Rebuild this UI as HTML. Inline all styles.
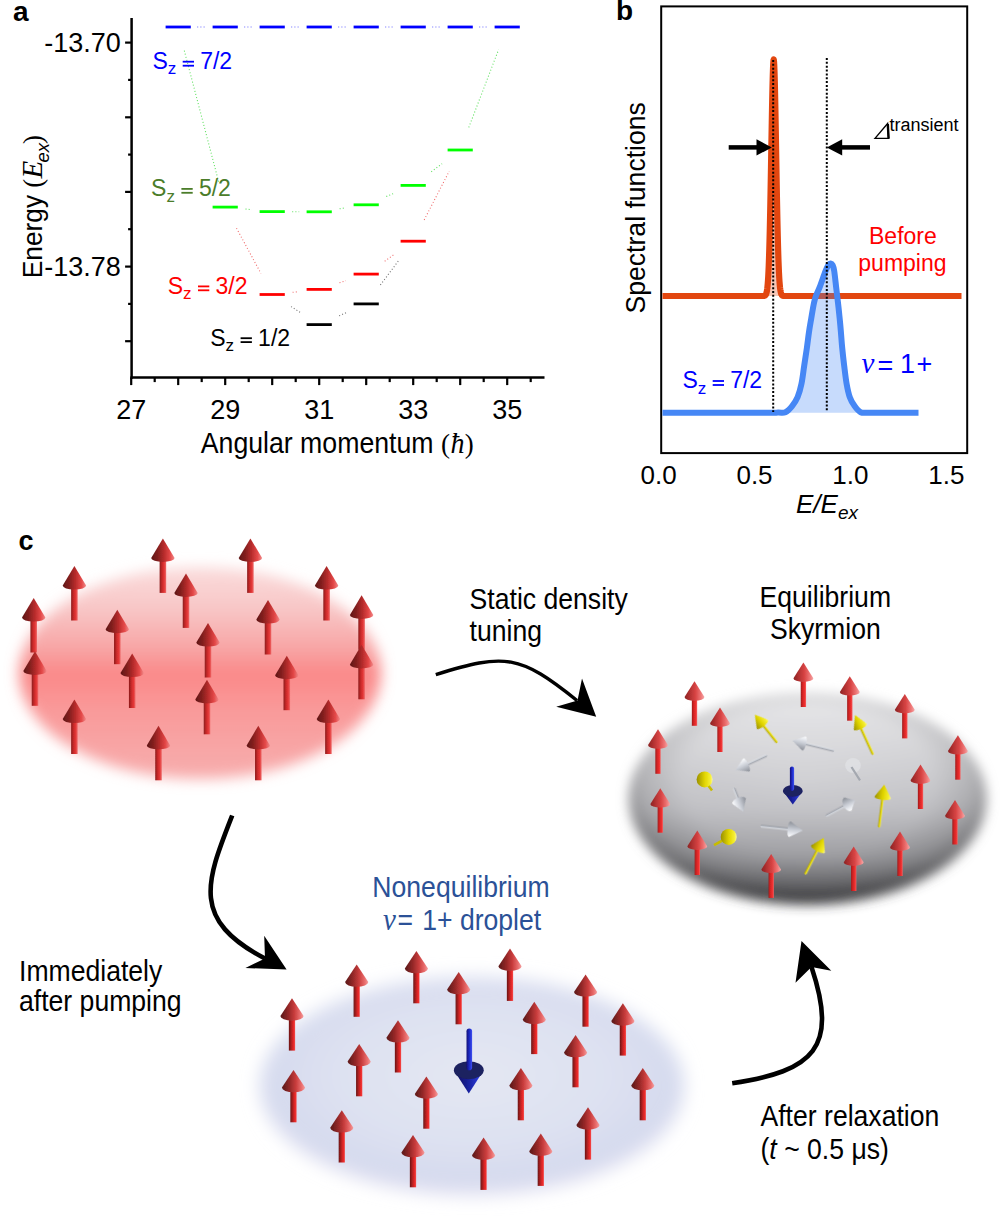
<!DOCTYPE html>
<html><head><meta charset="utf-8"><style>
html,body{margin:0;padding:0;background:#fff;width:1005px;height:1220px;overflow:hidden}
svg{display:block}
</style></head><body>
<svg width="1005" height="1220" viewBox="0 0 1005 1220">
<rect width="1005" height="1220" fill="#fff"/>

<defs>
 <linearGradient id="gConeR" x1="0" y1="0" x2="1" y2="0">
  <stop offset="0" stop-color="#5e1616"/><stop offset="0.3" stop-color="#86201f"/>
  <stop offset="0.55" stop-color="#b82c2c"/><stop offset="0.8" stop-color="#e44848"/><stop offset="1" stop-color="#f08a8a"/>
 </linearGradient>
 <linearGradient id="gShaftR" x1="0" y1="0" x2="1" y2="0">
  <stop offset="0" stop-color="#8a1c1c"/><stop offset="0.35" stop-color="#c42828"/>
  <stop offset="0.7" stop-color="#e43636"/><stop offset="1" stop-color="#ec6a6a"/>
 </linearGradient>
 <linearGradient id="gConeP" x1="0" y1="0" x2="1" y2="0">
  <stop offset="0" stop-color="#5e1a1a"/><stop offset="0.12" stop-color="#6c1e1e"/><stop offset="0.35" stop-color="#962828"/>
  <stop offset="0.6" stop-color="#c83c3c"/><stop offset="0.85" stop-color="#ea6e6e"/><stop offset="1" stop-color="#f2a0a0"/>
 </linearGradient>
 <linearGradient id="gShaftP" x1="0" y1="0" x2="1" y2="0">
  <stop offset="0" stop-color="#6a1616"/><stop offset="0.3" stop-color="#a01e1e"/>
  <stop offset="0.65" stop-color="#dc2626"/><stop offset="0.85" stop-color="#f02e2e"/><stop offset="1" stop-color="#f06060"/>
 </linearGradient>
 <linearGradient id="gConeQ" x1="0" y1="0" x2="1" y2="0">
  <stop offset="0" stop-color="#8c2424"/><stop offset="0.25" stop-color="#b03030"/><stop offset="0.55" stop-color="#d84444"/>
  <stop offset="0.82" stop-color="#ee7676"/><stop offset="1" stop-color="#f4aaaa"/>
 </linearGradient>
 <linearGradient id="gShaftQ" x1="0" y1="0" x2="1" y2="0">
  <stop offset="0" stop-color="#a01c1c"/><stop offset="0.35" stop-color="#d22424"/>
  <stop offset="0.75" stop-color="#f03030"/><stop offset="1" stop-color="#f26464"/>
 </linearGradient>
 <linearGradient id="gConeY" x1="0" y1="0" x2="1" y2="0">
  <stop offset="0" stop-color="#9a9000"/><stop offset="0.5" stop-color="#e0d400"/><stop offset="0.85" stop-color="#f5ee30"/><stop offset="1" stop-color="#faf6a0"/>
 </linearGradient>
 <linearGradient id="gShaftY" x1="0" y1="0" x2="1" y2="0">
  <stop offset="0" stop-color="#a89c00"/><stop offset="0.6" stop-color="#e6da10"/><stop offset="1" stop-color="#f0ea60"/>
 </linearGradient>
 <linearGradient id="gConeW" x1="0" y1="0" x2="1" y2="0">
  <stop offset="0" stop-color="#8a8e96"/><stop offset="0.5" stop-color="#c8ccd4"/><stop offset="0.85" stop-color="#eef0f4"/><stop offset="1" stop-color="#ffffff"/>
 </linearGradient>
 <linearGradient id="gShaftW" x1="0" y1="0" x2="1" y2="0">
  <stop offset="0" stop-color="#8c9098"/><stop offset="0.6" stop-color="#c4c8d0"/><stop offset="1" stop-color="#e8eaee"/>
 </linearGradient>
 <linearGradient id="gConeB" x1="0" y1="0" x2="1" y2="0">
  <stop offset="0" stop-color="#0c0c50"/><stop offset="0.5" stop-color="#1a22a0"/><stop offset="0.85" stop-color="#2a3ad8"/><stop offset="1" stop-color="#5060f0"/>
 </linearGradient>
 <linearGradient id="gShaftB" x1="0" y1="0" x2="1" y2="0">
  <stop offset="0" stop-color="#10107a"/><stop offset="0.6" stop-color="#2030d0"/><stop offset="1" stop-color="#4050f0"/>
 </linearGradient>
 <linearGradient id="gRedDisc" x1="0" y1="0" x2="0" y2="1">
  <stop offset="0" stop-color="#fadcdc"/><stop offset="0.2" stop-color="#f8c6c6"/>
  <stop offset="0.4" stop-color="#f8a2a2"/><stop offset="0.5" stop-color="#fa8888"/>
  <stop offset="0.68" stop-color="#f99a9a"/><stop offset="1" stop-color="#f7aeae"/>
 </linearGradient>
 <linearGradient id="gGrayV" x1="0" y1="0" x2="0" y2="1">
  <stop offset="0" stop-color="#f0f0f2"/><stop offset="0.25" stop-color="#dddde0"/><stop offset="0.55" stop-color="#c6c6ca"/>
  <stop offset="0.78" stop-color="#a2a2a6"/><stop offset="0.92" stop-color="#78787c"/><stop offset="1" stop-color="#5a5a5e"/>
 </linearGradient>
 <radialGradient id="gGrayR" cx="0.5" cy="0.42" r="0.58">
  <stop offset="0" stop-color="#000" stop-opacity="0"/><stop offset="0.6" stop-color="#000" stop-opacity="0.03"/>
  <stop offset="0.8" stop-color="#000" stop-opacity="0.15"/><stop offset="0.93" stop-color="#000" stop-opacity="0.34"/><stop offset="1" stop-color="#000" stop-opacity="0.48"/>
 </radialGradient>
 <radialGradient id="gGrayDisc" cx="0.5" cy="0.35" r="0.62" fx="0.5" fy="0.3">
  <stop offset="0" stop-color="#dcdce0"/><stop offset="0.45" stop-color="#c6c6cb"/>
  <stop offset="0.75" stop-color="#a3a3a8"/><stop offset="0.92" stop-color="#7a7a7e"/><stop offset="1" stop-color="#606064"/>
 </radialGradient>
 <radialGradient id="gBlueDisc" cx="0.5" cy="0.45" r="0.55">
  <stop offset="0" stop-color="#e4e7f3"/><stop offset="0.6" stop-color="#dde1f1"/>
  <stop offset="0.88" stop-color="#d5daee"/><stop offset="1" stop-color="#dedcef"/>
 </radialGradient>
 <filter id="blur8" x="-20%" y="-30%" width="140%" height="160%"><feGaussianBlur stdDeviation="7"/></filter>
 <filter id="blur6" x="-20%" y="-30%" width="140%" height="160%"><feGaussianBlur stdDeviation="6"/></filter>
 <filter id="blur9" x="-20%" y="-30%" width="140%" height="160%"><feGaussianBlur stdDeviation="9"/></filter>
 <filter id="blur5" x="-20%" y="-30%" width="140%" height="160%"><feGaussianBlur stdDeviation="5"/></filter>
 <filter id="soft" x="-30%" y="-30%" width="160%" height="160%"><feGaussianBlur stdDeviation="0.6"/></filter>
</defs>

<text x="13" y="20.5" font-family="Liberation Sans, sans-serif" font-weight="bold" font-size="28">a</text>
<line x1="131.6" y1="18" x2="131.6" y2="378.8" stroke="#000" stroke-width="2.5"/>
<line x1="130.4" y1="377.6" x2="544.5" y2="377.6" stroke="#000" stroke-width="2.5"/>
<line x1="125.1" y1="42.6" x2="131.6" y2="42.6" stroke="#000" stroke-width="2.2"/>
<line x1="128.1" y1="79.9" x2="131.6" y2="79.9" stroke="#000" stroke-width="2.2"/>
<line x1="125.1" y1="117.3" x2="131.6" y2="117.3" stroke="#000" stroke-width="2.2"/>
<line x1="128.1" y1="154.6" x2="131.6" y2="154.6" stroke="#000" stroke-width="2.2"/>
<line x1="125.1" y1="191.9" x2="131.6" y2="191.9" stroke="#000" stroke-width="2.2"/>
<line x1="128.1" y1="229.2" x2="131.6" y2="229.2" stroke="#000" stroke-width="2.2"/>
<line x1="125.1" y1="266.6" x2="131.6" y2="266.6" stroke="#000" stroke-width="2.2"/>
<line x1="128.1" y1="303.9" x2="131.6" y2="303.9" stroke="#000" stroke-width="2.2"/>
<line x1="125.1" y1="341.2" x2="131.6" y2="341.2" stroke="#000" stroke-width="2.2"/>
<line x1="131.2" y1="377.6" x2="131.2" y2="385.1" stroke="#000" stroke-width="2.2"/>
<line x1="154.7" y1="377.6" x2="154.7" y2="382.1" stroke="#000" stroke-width="2.2"/>
<line x1="178.2" y1="377.6" x2="178.2" y2="385.1" stroke="#000" stroke-width="2.2"/>
<line x1="201.7" y1="377.6" x2="201.7" y2="382.1" stroke="#000" stroke-width="2.2"/>
<line x1="225.2" y1="377.6" x2="225.2" y2="385.1" stroke="#000" stroke-width="2.2"/>
<line x1="248.7" y1="377.6" x2="248.7" y2="382.1" stroke="#000" stroke-width="2.2"/>
<line x1="272.2" y1="377.6" x2="272.2" y2="385.1" stroke="#000" stroke-width="2.2"/>
<line x1="295.7" y1="377.6" x2="295.7" y2="382.1" stroke="#000" stroke-width="2.2"/>
<line x1="319.2" y1="377.6" x2="319.2" y2="385.1" stroke="#000" stroke-width="2.2"/>
<line x1="342.7" y1="377.6" x2="342.7" y2="382.1" stroke="#000" stroke-width="2.2"/>
<line x1="366.2" y1="377.6" x2="366.2" y2="385.1" stroke="#000" stroke-width="2.2"/>
<line x1="389.7" y1="377.6" x2="389.7" y2="382.1" stroke="#000" stroke-width="2.2"/>
<line x1="413.2" y1="377.6" x2="413.2" y2="385.1" stroke="#000" stroke-width="2.2"/>
<line x1="436.7" y1="377.6" x2="436.7" y2="382.1" stroke="#000" stroke-width="2.2"/>
<line x1="460.2" y1="377.6" x2="460.2" y2="385.1" stroke="#000" stroke-width="2.2"/>
<line x1="483.7" y1="377.6" x2="483.7" y2="382.1" stroke="#000" stroke-width="2.2"/>
<line x1="507.2" y1="377.6" x2="507.2" y2="385.1" stroke="#000" stroke-width="2.2"/>
<line x1="530.7" y1="377.6" x2="530.7" y2="382.1" stroke="#000" stroke-width="2.2"/>
<text x="131.2" y="418.5" font-family="Liberation Sans, sans-serif" font-size="27" text-anchor="middle">27</text>
<text x="225.2" y="418.5" font-family="Liberation Sans, sans-serif" font-size="27" text-anchor="middle">29</text>
<text x="319.2" y="418.5" font-family="Liberation Sans, sans-serif" font-size="27" text-anchor="middle">31</text>
<text x="413.2" y="418.5" font-family="Liberation Sans, sans-serif" font-size="27" text-anchor="middle">33</text>
<text x="507.2" y="418.5" font-family="Liberation Sans, sans-serif" font-size="27" text-anchor="middle">35</text>
<text x="120.8" y="52.3" font-family="Liberation Sans, sans-serif" font-size="27" text-anchor="end">-13.70</text>
<text x="120.8" y="276" font-family="Liberation Sans, sans-serif" font-size="27" text-anchor="end">-13.78</text>
<text transform="translate(200.75,452.6) scale(1,1.08)" font-family="Liberation Sans, sans-serif" font-size="26.7">Angular momentum</text>
<text transform="translate(441.0,452.8) scale(1,1.04)" font-family="Liberation Serif, serif" font-size="27">(</text>
<text transform="translate(450.6,453.1) scale(1,1.04)" font-family="Liberation Serif, serif" font-style="italic" font-size="28">&#295;</text>
<text transform="translate(464.8,452.8) scale(1,1.04)" font-family="Liberation Serif, serif" font-size="27">)</text>
<g transform="translate(42.2,278.2) rotate(-90) scale(1,1.04)"><text x="0" y="0" font-family="Liberation Sans, sans-serif" font-size="26.3">Energy</text><text x="90.5" y="0" font-family="Liberation Serif, serif" font-size="27">(</text><text x="99.8" y="0" font-family="Liberation Serif, serif" font-style="italic" font-size="29">E</text><text x="115.6" y="6.5" font-family="Liberation Sans, sans-serif" font-style="italic" font-size="18.5">ex</text><text x="134.3" y="0" font-family="Liberation Serif, serif" font-size="27">)</text></g>
<line x1="197.2" y1="27.0" x2="206.2" y2="27.0" stroke="#6a6aff" stroke-width="1.1" stroke-dasharray="1 2.2"/>
<line x1="244.2" y1="27.0" x2="253.2" y2="27.0" stroke="#6a6aff" stroke-width="1.1" stroke-dasharray="1 2.2"/>
<line x1="291.2" y1="27.0" x2="300.2" y2="27.0" stroke="#6a6aff" stroke-width="1.1" stroke-dasharray="1 2.2"/>
<line x1="338.2" y1="27.0" x2="347.2" y2="27.0" stroke="#6a6aff" stroke-width="1.1" stroke-dasharray="1 2.2"/>
<line x1="385.2" y1="27.0" x2="394.2" y2="27.0" stroke="#6a6aff" stroke-width="1.1" stroke-dasharray="1 2.2"/>
<line x1="432.2" y1="27.0" x2="441.2" y2="27.0" stroke="#6a6aff" stroke-width="1.1" stroke-dasharray="1 2.2"/>
<line x1="479.2" y1="27.0" x2="488.2" y2="27.0" stroke="#6a6aff" stroke-width="1.1" stroke-dasharray="1 2.2"/>
<line x1="184.3" y1="50.6" x2="219.1" y2="183.5" stroke="#5ee05e" stroke-width="1.1" stroke-dasharray="1 2.2"/>
<line x1="245.5" y1="209.0" x2="251.9" y2="209.7" stroke="#5ee05e" stroke-width="1.1" stroke-dasharray="1 2.2"/>
<line x1="292.2" y1="211.7" x2="299.2" y2="211.7" stroke="#5ee05e" stroke-width="1.1" stroke-dasharray="1 2.2"/>
<line x1="339.6" y1="208.8" x2="345.8" y2="207.8" stroke="#5ee05e" stroke-width="1.1" stroke-dasharray="1 2.2"/>
<line x1="386.3" y1="196.5" x2="393.1" y2="193.7" stroke="#5ee05e" stroke-width="1.1" stroke-dasharray="1 2.2"/>
<line x1="431.3" y1="171.7" x2="442.1" y2="163.7" stroke="#5ee05e" stroke-width="1.1" stroke-dasharray="1 2.2"/>
<line x1="468.8" y1="127.4" x2="498.6" y2="49.6" stroke="#5ee05e" stroke-width="1.1" stroke-dasharray="1 2.2"/>
<line x1="236.5" y1="228.2" x2="260.9" y2="273.4" stroke="#f06a6a" stroke-width="1.1" stroke-dasharray="1 2.2"/>
<line x1="292.6" y1="292.3" x2="298.8" y2="291.6" stroke="#f06a6a" stroke-width="1.1" stroke-dasharray="1 2.2"/>
<line x1="339.5" y1="282.8" x2="345.9" y2="280.7" stroke="#f06a6a" stroke-width="1.1" stroke-dasharray="1 2.2"/>
<line x1="384.7" y1="261.2" x2="394.7" y2="254.1" stroke="#f06a6a" stroke-width="1.1" stroke-dasharray="1 2.2"/>
<line x1="424.2" y1="219.9" x2="449.2" y2="171.3" stroke="#f06a6a" stroke-width="1.1" stroke-dasharray="1 2.2"/>
<line x1="291.1" y1="306.6" x2="300.3" y2="312.5" stroke="#707070" stroke-width="1.1" stroke-dasharray="1 2.2"/>
<line x1="339.2" y1="315.8" x2="346.2" y2="312.7" stroke="#707070" stroke-width="1.1" stroke-dasharray="1 2.2"/>
<line x1="380.4" y1="285.0" x2="399.0" y2="260.1" stroke="#707070" stroke-width="1.1" stroke-dasharray="1 2.2"/>
<line x1="165.6" y1="27" x2="190.8" y2="27" stroke="#0000ff" stroke-width="2.8"/>
<line x1="212.6" y1="27" x2="237.8" y2="27" stroke="#0000ff" stroke-width="2.8"/>
<line x1="259.6" y1="27" x2="284.8" y2="27" stroke="#0000ff" stroke-width="2.8"/>
<line x1="306.6" y1="27" x2="331.8" y2="27" stroke="#0000ff" stroke-width="2.8"/>
<line x1="353.6" y1="27" x2="378.8" y2="27" stroke="#0000ff" stroke-width="2.8"/>
<line x1="400.6" y1="27" x2="425.8" y2="27" stroke="#0000ff" stroke-width="2.8"/>
<line x1="447.6" y1="27" x2="472.8" y2="27" stroke="#0000ff" stroke-width="2.8"/>
<line x1="494.6" y1="27" x2="519.8" y2="27" stroke="#0000ff" stroke-width="2.8"/>
<line x1="212.6" y1="207.1" x2="237.8" y2="207.1" stroke="#00ff00" stroke-width="2.8"/>
<line x1="259.6" y1="211.6" x2="284.8" y2="211.6" stroke="#00ff00" stroke-width="2.8"/>
<line x1="306.6" y1="211.8" x2="331.8" y2="211.8" stroke="#00ff00" stroke-width="2.8"/>
<line x1="353.6" y1="204.8" x2="378.8" y2="204.8" stroke="#00ff00" stroke-width="2.8"/>
<line x1="400.6" y1="185.4" x2="425.8" y2="185.4" stroke="#00ff00" stroke-width="2.8"/>
<line x1="447.6" y1="150" x2="472.8" y2="150" stroke="#00ff00" stroke-width="2.8"/>
<line x1="259.6" y1="294.5" x2="284.8" y2="294.5" stroke="#ff0000" stroke-width="2.8"/>
<line x1="306.6" y1="289.4" x2="331.8" y2="289.4" stroke="#ff0000" stroke-width="2.8"/>
<line x1="353.6" y1="274.1" x2="378.8" y2="274.1" stroke="#ff0000" stroke-width="2.8"/>
<line x1="400.6" y1="241.2" x2="425.8" y2="241.2" stroke="#ff0000" stroke-width="2.8"/>
<line x1="306.6" y1="324.6" x2="331.8" y2="324.6" stroke="#000000" stroke-width="2.8"/>
<line x1="353.6" y1="303.9" x2="378.8" y2="303.9" stroke="#000000" stroke-width="2.8"/>
<text font-family="Liberation Sans, sans-serif" fill="#0000ff" font-size="23"><tspan x="152.4" y="69">S</tspan><tspan x="167.7" y="74.3" font-size="17">z</tspan><tspan x="200.2" y="69">7/2</tspan></text><rect x="182.7" y="60.8" width="11.3" height="1.8" fill="#0000ff"/><rect x="182.7" y="64.8" width="11.3" height="1.8" fill="#0000ff"/>
<text font-family="Liberation Sans, sans-serif" fill="#4b7d2a" font-size="23"><tspan x="151.1" y="196.2">S</tspan><tspan x="166.4" y="201.5" font-size="17">z</tspan><tspan x="198.9" y="196.2">5/2</tspan></text><rect x="181.4" y="188.0" width="11.3" height="1.8" fill="#4b7d2a"/><rect x="181.4" y="191.9" width="11.3" height="1.8" fill="#4b7d2a"/>
<text font-family="Liberation Sans, sans-serif" fill="#ff0000" font-size="23"><tspan x="167.7" y="293.7">S</tspan><tspan x="183.0" y="299.0" font-size="17">z</tspan><tspan x="215.5" y="293.7">3/2</tspan></text><rect x="198.0" y="285.5" width="11.3" height="1.8" fill="#ff0000"/><rect x="198.0" y="289.4" width="11.3" height="1.8" fill="#ff0000"/>
<text font-family="Liberation Sans, sans-serif" fill="#000000" font-size="23"><tspan x="210.3" y="345.5">S</tspan><tspan x="225.6" y="350.8" font-size="17">z</tspan><tspan x="258.1" y="345.5">1/2</tspan></text><rect x="240.6" y="337.3" width="11.3" height="1.8" fill="#000000"/><rect x="240.6" y="341.2" width="11.3" height="1.8" fill="#000000"/>
<text x="616" y="20" font-family="Liberation Sans, sans-serif" font-weight="bold" font-size="28">b</text>
<rect x="661.2" y="6.4" width="306" height="446.7" fill="none" stroke="#000" stroke-width="2"/>
<path d="M760.00,296.00 L760.25,296.00 L760.50,296.00 L760.75,296.00 L761.00,296.00 L761.25,296.00 L761.50,296.00 L761.75,296.00 L762.00,296.00 L762.25,296.00 L762.50,295.99 L762.75,295.99 L763.00,295.98 L763.25,295.97 L763.50,295.96 L763.75,295.94 L764.00,295.91 L764.25,295.86 L764.50,295.79 L764.75,295.70 L765.00,295.57 L765.25,295.38 L765.50,295.13 L765.75,294.78 L766.00,294.31 L766.25,293.68 L766.50,292.85 L766.75,291.77 L767.00,290.38 L767.25,288.61 L767.50,286.38 L767.75,283.61 L768.00,280.21 L768.25,276.08 L768.50,271.13 L768.75,265.28 L769.00,258.44 L769.25,250.56 L769.50,241.59 L769.75,231.52 L770.00,220.39 L770.25,208.25 L770.50,195.22 L770.75,181.45 L771.00,167.14 L771.25,152.56 L771.50,137.97 L771.75,123.71 L772.00,110.10 L772.25,97.50 L772.50,86.23 L772.75,76.63 L773.00,68.96 L773.25,63.46 L773.50,60.29 L773.75,59.55 L774.00,61.27 L774.25,65.38 L774.50,71.78 L774.75,80.25 L775.00,90.56 L775.25,102.39 L775.50,115.44 L775.75,129.35 L776.00,143.78 L776.25,158.41 L776.50,172.91 L776.75,187.03 L777.00,200.53 L777.25,213.22 L777.50,224.97 L777.75,235.68 L778.00,245.31 L778.25,253.84 L778.50,261.30 L778.75,267.73 L779.00,273.22 L779.25,277.82 L779.50,281.65 L779.75,284.79 L780.00,287.33 L780.25,289.37 L780.50,290.98 L780.75,292.23 L781.00,293.21 L781.25,293.95 L781.50,294.51 L781.75,294.93 L782.00,295.24 L782.25,295.46 L782.50,295.63 L782.75,295.74 L783.00,295.82 L783.25,295.88 L783.50,295.92 L783.75,295.95 L784.00,295.97 L784.25,295.98 L784.50,295.99 L784.75,295.99 L785.00,295.99 L785.25,296.00 L785.50,296.00 L785.75,296.00 L786.00,296.00 L786.25,296.00 L786.50,296.00 L786.75,296.00 L787.00,296.00 L787.25,296.00 L787.50,296.00 L787.75,296.00 L788.00,296.00 Z" fill="#e2460f" fill-opacity="0.3"/>
<path d="M662.50,296.00 L662.75,296.00 L663.00,296.00 L663.25,296.00 L663.50,296.00 L663.75,296.00 L664.00,296.00 L664.25,296.00 L664.50,296.00 L664.75,296.00 L665.00,296.00 L665.25,296.00 L665.50,296.00 L665.75,296.00 L666.00,296.00 L666.25,296.00 L666.50,296.00 L666.75,296.00 L667.00,296.00 L667.25,296.00 L667.50,296.00 L667.75,296.00 L668.00,296.00 L668.25,296.00 L668.50,296.00 L668.75,296.00 L669.00,296.00 L669.25,296.00 L669.50,296.00 L669.75,296.00 L670.00,296.00 L670.25,296.00 L670.50,296.00 L670.75,296.00 L671.00,296.00 L671.25,296.00 L671.50,296.00 L671.75,296.00 L672.00,296.00 L672.25,296.00 L672.50,296.00 L672.75,296.00 L673.00,296.00 L673.25,296.00 L673.50,296.00 L673.75,296.00 L674.00,296.00 L674.25,296.00 L674.50,296.00 L674.75,296.00 L675.00,296.00 L675.25,296.00 L675.50,296.00 L675.75,296.00 L676.00,296.00 L676.25,296.00 L676.50,296.00 L676.75,296.00 L677.00,296.00 L677.25,296.00 L677.50,296.00 L677.75,296.00 L678.00,296.00 L678.25,296.00 L678.50,296.00 L678.75,296.00 L679.00,296.00 L679.25,296.00 L679.50,296.00 L679.75,296.00 L680.00,296.00 L680.25,296.00 L680.50,296.00 L680.75,296.00 L681.00,296.00 L681.25,296.00 L681.50,296.00 L681.75,296.00 L682.00,296.00 L682.25,296.00 L682.50,296.00 L682.75,296.00 L683.00,296.00 L683.25,296.00 L683.50,296.00 L683.75,296.00 L684.00,296.00 L684.25,296.00 L684.50,296.00 L684.75,296.00 L685.00,296.00 L685.25,296.00 L685.50,296.00 L685.75,296.00 L686.00,296.00 L686.25,296.00 L686.50,296.00 L686.75,296.00 L687.00,296.00 L687.25,296.00 L687.50,296.00 L687.75,296.00 L688.00,296.00 L688.25,296.00 L688.50,296.00 L688.75,296.00 L689.00,296.00 L689.25,296.00 L689.50,296.00 L689.75,296.00 L690.00,296.00 L690.25,296.00 L690.50,296.00 L690.75,296.00 L691.00,296.00 L691.25,296.00 L691.50,296.00 L691.75,296.00 L692.00,296.00 L692.25,296.00 L692.50,296.00 L692.75,296.00 L693.00,296.00 L693.25,296.00 L693.50,296.00 L693.75,296.00 L694.00,296.00 L694.25,296.00 L694.50,296.00 L694.75,296.00 L695.00,296.00 L695.25,296.00 L695.50,296.00 L695.75,296.00 L696.00,296.00 L696.25,296.00 L696.50,296.00 L696.75,296.00 L697.00,296.00 L697.25,296.00 L697.50,296.00 L697.75,296.00 L698.00,296.00 L698.25,296.00 L698.50,296.00 L698.75,296.00 L699.00,296.00 L699.25,296.00 L699.50,296.00 L699.75,296.00 L700.00,296.00 L700.25,296.00 L700.50,296.00 L700.75,296.00 L701.00,296.00 L701.25,296.00 L701.50,296.00 L701.75,296.00 L702.00,296.00 L702.25,296.00 L702.50,296.00 L702.75,296.00 L703.00,296.00 L703.25,296.00 L703.50,296.00 L703.75,296.00 L704.00,296.00 L704.25,296.00 L704.50,296.00 L704.75,296.00 L705.00,296.00 L705.25,296.00 L705.50,296.00 L705.75,296.00 L706.00,296.00 L706.25,296.00 L706.50,296.00 L706.75,296.00 L707.00,296.00 L707.25,296.00 L707.50,296.00 L707.75,296.00 L708.00,296.00 L708.25,296.00 L708.50,296.00 L708.75,296.00 L709.00,296.00 L709.25,296.00 L709.50,296.00 L709.75,296.00 L710.00,296.00 L710.25,296.00 L710.50,296.00 L710.75,296.00 L711.00,296.00 L711.25,296.00 L711.50,296.00 L711.75,296.00 L712.00,296.00 L712.25,296.00 L712.50,296.00 L712.75,296.00 L713.00,296.00 L713.25,296.00 L713.50,296.00 L713.75,296.00 L714.00,296.00 L714.25,296.00 L714.50,296.00 L714.75,296.00 L715.00,296.00 L715.25,296.00 L715.50,296.00 L715.75,296.00 L716.00,296.00 L716.25,296.00 L716.50,296.00 L716.75,296.00 L717.00,296.00 L717.25,296.00 L717.50,296.00 L717.75,296.00 L718.00,296.00 L718.25,296.00 L718.50,296.00 L718.75,296.00 L719.00,296.00 L719.25,296.00 L719.50,296.00 L719.75,296.00 L720.00,296.00 L720.25,296.00 L720.50,296.00 L720.75,296.00 L721.00,296.00 L721.25,296.00 L721.50,296.00 L721.75,296.00 L722.00,296.00 L722.25,296.00 L722.50,296.00 L722.75,296.00 L723.00,296.00 L723.25,296.00 L723.50,296.00 L723.75,296.00 L724.00,296.00 L724.25,296.00 L724.50,296.00 L724.75,296.00 L725.00,296.00 L725.25,296.00 L725.50,296.00 L725.75,296.00 L726.00,296.00 L726.25,296.00 L726.50,296.00 L726.75,296.00 L727.00,296.00 L727.25,296.00 L727.50,296.00 L727.75,296.00 L728.00,296.00 L728.25,296.00 L728.50,296.00 L728.75,296.00 L729.00,296.00 L729.25,296.00 L729.50,296.00 L729.75,296.00 L730.00,296.00 L730.25,296.00 L730.50,296.00 L730.75,296.00 L731.00,296.00 L731.25,296.00 L731.50,296.00 L731.75,296.00 L732.00,296.00 L732.25,296.00 L732.50,296.00 L732.75,296.00 L733.00,296.00 L733.25,296.00 L733.50,296.00 L733.75,296.00 L734.00,296.00 L734.25,296.00 L734.50,296.00 L734.75,296.00 L735.00,296.00 L735.25,296.00 L735.50,296.00 L735.75,296.00 L736.00,296.00 L736.25,296.00 L736.50,296.00 L736.75,296.00 L737.00,296.00 L737.25,296.00 L737.50,296.00 L737.75,296.00 L738.00,296.00 L738.25,296.00 L738.50,296.00 L738.75,296.00 L739.00,296.00 L739.25,296.00 L739.50,296.00 L739.75,296.00 L740.00,296.00 L740.25,296.00 L740.50,296.00 L740.75,296.00 L741.00,296.00 L741.25,296.00 L741.50,296.00 L741.75,296.00 L742.00,296.00 L742.25,296.00 L742.50,296.00 L742.75,296.00 L743.00,296.00 L743.25,296.00 L743.50,296.00 L743.75,296.00 L744.00,296.00 L744.25,296.00 L744.50,296.00 L744.75,296.00 L745.00,296.00 L745.25,296.00 L745.50,296.00 L745.75,296.00 L746.00,296.00 L746.25,296.00 L746.50,296.00 L746.75,296.00 L747.00,296.00 L747.25,296.00 L747.50,296.00 L747.75,296.00 L748.00,296.00 L748.25,296.00 L748.50,296.00 L748.75,296.00 L749.00,296.00 L749.25,296.00 L749.50,296.00 L749.75,296.00 L750.00,296.00 L750.25,296.00 L750.50,296.00 L750.75,296.00 L751.00,296.00 L751.25,296.00 L751.50,296.00 L751.75,296.00 L752.00,296.00 L752.25,296.00 L752.50,296.00 L752.75,296.00 L753.00,296.00 L753.25,296.00 L753.50,296.00 L753.75,296.00 L754.00,296.00 L754.25,296.00 L754.50,296.00 L754.75,296.00 L755.00,296.00 L755.25,296.00 L755.50,296.00 L755.75,296.00 L756.00,296.00 L756.25,296.00 L756.50,296.00 L756.75,296.00 L757.00,296.00 L757.25,296.00 L757.50,296.00 L757.75,296.00 L758.00,296.00 L758.25,296.00 L758.50,296.00 L758.75,296.00 L759.00,296.00 L759.25,296.00 L759.50,296.00 L759.75,296.00 L760.00,296.00 L760.25,296.00 L760.50,296.00 L760.75,296.00 L761.00,296.00 L761.25,296.00 L761.50,296.00 L761.75,296.00 L762.00,296.00 L762.25,296.00 L762.50,295.99 L762.75,295.99 L763.00,295.98 L763.25,295.97 L763.50,295.96 L763.75,295.94 L764.00,295.91 L764.25,295.86 L764.50,295.79 L764.75,295.70 L765.00,295.57 L765.25,295.38 L765.50,295.13 L765.75,294.78 L766.00,294.31 L766.25,293.68 L766.50,292.85 L766.75,291.77 L767.00,290.38 L767.25,288.61 L767.50,286.38 L767.75,283.61 L768.00,280.21 L768.25,276.08 L768.50,271.13 L768.75,265.28 L769.00,258.44 L769.25,250.56 L769.50,241.59 L769.75,231.52 L770.00,220.39 L770.25,208.25 L770.50,195.22 L770.75,181.45 L771.00,167.14 L771.25,152.56 L771.50,137.97 L771.75,123.71 L772.00,110.10 L772.25,97.50 L772.50,86.23 L772.75,76.63 L773.00,68.96 L773.25,63.46 L773.50,60.29 L773.75,59.55 L774.00,61.27 L774.25,65.38 L774.50,71.78 L774.75,80.25 L775.00,90.56 L775.25,102.39 L775.50,115.44 L775.75,129.35 L776.00,143.78 L776.25,158.41 L776.50,172.91 L776.75,187.03 L777.00,200.53 L777.25,213.22 L777.50,224.97 L777.75,235.68 L778.00,245.31 L778.25,253.84 L778.50,261.30 L778.75,267.73 L779.00,273.22 L779.25,277.82 L779.50,281.65 L779.75,284.79 L780.00,287.33 L780.25,289.37 L780.50,290.98 L780.75,292.23 L781.00,293.21 L781.25,293.95 L781.50,294.51 L781.75,294.93 L782.00,295.24 L782.25,295.46 L782.50,295.63 L782.75,295.74 L783.00,295.82 L783.25,295.88 L783.50,295.92 L783.75,295.95 L784.00,295.97 L784.25,295.98 L784.50,295.99 L784.75,295.99 L785.00,295.99 L785.25,296.00 L785.50,296.00 L785.75,296.00 L786.00,296.00 L786.25,296.00 L786.50,296.00 L786.75,296.00 L787.00,296.00 L787.25,296.00 L787.50,296.00 L787.75,296.00 L788.00,296.00 L788.25,296.00 L788.50,296.00 L788.75,296.00 L789.00,296.00 L789.25,296.00 L789.50,296.00 L789.75,296.00 L790.00,296.00 L790.25,296.00 L790.50,296.00 L790.75,296.00 L791.00,296.00 L791.25,296.00 L791.50,296.00 L791.75,296.00 L792.00,296.00 L792.25,296.00 L792.50,296.00 L792.75,296.00 L793.00,296.00 L793.25,296.00 L793.50,296.00 L793.75,296.00 L794.00,296.00 L794.25,296.00 L794.50,296.00 L794.75,296.00 L795.00,296.00 L795.25,296.00 L795.50,296.00 L795.75,296.00 L796.00,296.00 L796.25,296.00 L796.50,296.00 L796.75,296.00 L797.00,296.00 L797.25,296.00 L797.50,296.00 L797.75,296.00 L798.00,296.00 L798.25,296.00 L798.50,296.00 L798.75,296.00 L799.00,296.00 L799.25,296.00 L799.50,296.00 L799.75,296.00 L800.00,296.00 L800.25,296.00 L800.50,296.00 L800.75,296.00 L801.00,296.00 L801.25,296.00 L801.50,296.00 L801.75,296.00 L802.00,296.00 L802.25,296.00 L802.50,296.00 L802.75,296.00 L803.00,296.00 L803.25,296.00 L803.50,296.00 L803.75,296.00 L804.00,296.00 L804.25,296.00 L804.50,296.00 L804.75,296.00 L805.00,296.00 L805.25,296.00 L805.50,296.00 L805.75,296.00 L806.00,296.00 L806.25,296.00 L806.50,296.00 L806.75,296.00 L807.00,296.00 L807.25,296.00 L807.50,296.00 L807.75,296.00 L808.00,296.00 L808.25,296.00 L808.50,296.00 L808.75,296.00 L809.00,296.00 L809.25,296.00 L809.50,296.00 L809.75,296.00 L810.00,296.00 L810.25,296.00 L810.50,296.00 L810.75,296.00 L811.00,296.00 L811.25,296.00 L811.50,296.00 L811.75,296.00 L812.00,296.00 L812.25,296.00 L812.50,296.00 L812.75,296.00 L813.00,296.00 L813.25,296.00 L813.50,296.00 L813.75,296.00 L814.00,296.00 L814.25,296.00 L814.50,296.00 L814.75,296.00 L815.00,296.00 L815.25,296.00 L815.50,296.00 L815.75,296.00 L816.00,296.00 L816.25,296.00 L816.50,296.00 L816.75,296.00 L817.00,296.00 L817.25,296.00 L817.50,296.00 L817.75,296.00 L818.00,296.00 L818.25,296.00 L818.50,296.00 L818.75,296.00 L819.00,296.00 L819.25,296.00 L819.50,296.00 L819.75,296.00 L820.00,296.00 L820.25,296.00 L820.50,296.00 L820.75,296.00 L821.00,296.00 L821.25,296.00 L821.50,296.00 L821.75,296.00 L822.00,296.00 L822.25,296.00 L822.50,296.00 L822.75,296.00 L823.00,296.00 L823.25,296.00 L823.50,296.00 L823.75,296.00 L824.00,296.00 L824.25,296.00 L824.50,296.00 L824.75,296.00 L825.00,296.00 L825.25,296.00 L825.50,296.00 L825.75,296.00 L826.00,296.00 L826.25,296.00 L826.50,296.00 L826.75,296.00 L827.00,296.00 L827.25,296.00 L827.50,296.00 L827.75,296.00 L828.00,296.00 L828.25,296.00 L828.50,296.00 L828.75,296.00 L829.00,296.00 L829.25,296.00 L829.50,296.00 L829.75,296.00 L830.00,296.00 L830.25,296.00 L830.50,296.00 L830.75,296.00 L831.00,296.00 L831.25,296.00 L831.50,296.00 L831.75,296.00 L832.00,296.00 L832.25,296.00 L832.50,296.00 L832.75,296.00 L833.00,296.00 L833.25,296.00 L833.50,296.00 L833.75,296.00 L834.00,296.00 L834.25,296.00 L834.50,296.00 L834.75,296.00 L835.00,296.00 L835.25,296.00 L835.50,296.00 L835.75,296.00 L836.00,296.00 L836.25,296.00 L836.50,296.00 L836.75,296.00 L837.00,296.00 L837.25,296.00 L837.50,296.00 L837.75,296.00 L838.00,296.00 L838.25,296.00 L838.50,296.00 L838.75,296.00 L839.00,296.00 L839.25,296.00 L839.50,296.00 L839.75,296.00 L840.00,296.00 L840.25,296.00 L840.50,296.00 L840.75,296.00 L841.00,296.00 L841.25,296.00 L841.50,296.00 L841.75,296.00 L842.00,296.00 L842.25,296.00 L842.50,296.00 L842.75,296.00 L843.00,296.00 L843.25,296.00 L843.50,296.00 L843.75,296.00 L844.00,296.00 L844.25,296.00 L844.50,296.00 L844.75,296.00 L845.00,296.00 L845.25,296.00 L845.50,296.00 L845.75,296.00 L846.00,296.00 L846.25,296.00 L846.50,296.00 L846.75,296.00 L847.00,296.00 L847.25,296.00 L847.50,296.00 L847.75,296.00 L848.00,296.00 L848.25,296.00 L848.50,296.00 L848.75,296.00 L849.00,296.00 L849.25,296.00 L849.50,296.00 L849.75,296.00 L850.00,296.00 L850.25,296.00 L850.50,296.00 L850.75,296.00 L851.00,296.00 L851.25,296.00 L851.50,296.00 L851.75,296.00 L852.00,296.00 L852.25,296.00 L852.50,296.00 L852.75,296.00 L853.00,296.00 L853.25,296.00 L853.50,296.00 L853.75,296.00 L854.00,296.00 L854.25,296.00 L854.50,296.00 L854.75,296.00 L855.00,296.00 L855.25,296.00 L855.50,296.00 L855.75,296.00 L856.00,296.00 L856.25,296.00 L856.50,296.00 L856.75,296.00 L857.00,296.00 L857.25,296.00 L857.50,296.00 L857.75,296.00 L858.00,296.00 L858.25,296.00 L858.50,296.00 L858.75,296.00 L859.00,296.00 L859.25,296.00 L859.50,296.00 L859.75,296.00 L860.00,296.00 L860.25,296.00 L860.50,296.00 L860.75,296.00 L861.00,296.00 L861.25,296.00 L861.50,296.00 L861.75,296.00 L862.00,296.00 L862.25,296.00 L862.50,296.00 L862.75,296.00 L863.00,296.00 L863.25,296.00 L863.50,296.00 L863.75,296.00 L864.00,296.00 L864.25,296.00 L864.50,296.00 L864.75,296.00 L865.00,296.00 L865.25,296.00 L865.50,296.00 L865.75,296.00 L866.00,296.00 L866.25,296.00 L866.50,296.00 L866.75,296.00 L867.00,296.00 L867.25,296.00 L867.50,296.00 L867.75,296.00 L868.00,296.00 L868.25,296.00 L868.50,296.00 L868.75,296.00 L869.00,296.00 L869.25,296.00 L869.50,296.00 L869.75,296.00 L870.00,296.00 L870.25,296.00 L870.50,296.00 L870.75,296.00 L871.00,296.00 L871.25,296.00 L871.50,296.00 L871.75,296.00 L872.00,296.00 L872.25,296.00 L872.50,296.00 L872.75,296.00 L873.00,296.00 L873.25,296.00 L873.50,296.00 L873.75,296.00 L874.00,296.00 L874.25,296.00 L874.50,296.00 L874.75,296.00 L875.00,296.00 L875.25,296.00 L875.50,296.00 L875.75,296.00 L876.00,296.00 L876.25,296.00 L876.50,296.00 L876.75,296.00 L877.00,296.00 L877.25,296.00 L877.50,296.00 L877.75,296.00 L878.00,296.00 L878.25,296.00 L878.50,296.00 L878.75,296.00 L879.00,296.00 L879.25,296.00 L879.50,296.00 L879.75,296.00 L880.00,296.00 L880.25,296.00 L880.50,296.00 L880.75,296.00 L881.00,296.00 L881.25,296.00 L881.50,296.00 L881.75,296.00 L882.00,296.00 L882.25,296.00 L882.50,296.00 L882.75,296.00 L883.00,296.00 L883.25,296.00 L883.50,296.00 L883.75,296.00 L884.00,296.00 L884.25,296.00 L884.50,296.00 L884.75,296.00 L885.00,296.00 L885.25,296.00 L885.50,296.00 L885.75,296.00 L886.00,296.00 L886.25,296.00 L886.50,296.00 L886.75,296.00 L887.00,296.00 L887.25,296.00 L887.50,296.00 L887.75,296.00 L888.00,296.00 L888.25,296.00 L888.50,296.00 L888.75,296.00 L889.00,296.00 L889.25,296.00 L889.50,296.00 L889.75,296.00 L890.00,296.00 L890.25,296.00 L890.50,296.00 L890.75,296.00 L891.00,296.00 L891.25,296.00 L891.50,296.00 L891.75,296.00 L892.00,296.00 L892.25,296.00 L892.50,296.00 L892.75,296.00 L893.00,296.00 L893.25,296.00 L893.50,296.00 L893.75,296.00 L894.00,296.00 L894.25,296.00 L894.50,296.00 L894.75,296.00 L895.00,296.00 L895.25,296.00 L895.50,296.00 L895.75,296.00 L896.00,296.00 L896.25,296.00 L896.50,296.00 L896.75,296.00 L897.00,296.00 L897.25,296.00 L897.50,296.00 L897.75,296.00 L898.00,296.00 L898.25,296.00 L898.50,296.00 L898.75,296.00 L899.00,296.00 L899.25,296.00 L899.50,296.00 L899.75,296.00 L900.00,296.00 L900.25,296.00 L900.50,296.00 L900.75,296.00 L901.00,296.00 L901.25,296.00 L901.50,296.00 L901.75,296.00 L902.00,296.00 L902.25,296.00 L902.50,296.00 L902.75,296.00 L903.00,296.00 L903.25,296.00 L903.50,296.00 L903.75,296.00 L904.00,296.00 L904.25,296.00 L904.50,296.00 L904.75,296.00 L905.00,296.00 L905.25,296.00 L905.50,296.00 L905.75,296.00 L906.00,296.00 L906.25,296.00 L906.50,296.00 L906.75,296.00 L907.00,296.00 L907.25,296.00 L907.50,296.00 L907.75,296.00 L908.00,296.00 L908.25,296.00 L908.50,296.00 L908.75,296.00 L909.00,296.00 L909.25,296.00 L909.50,296.00 L909.75,296.00 L910.00,296.00 L910.25,296.00 L910.50,296.00 L910.75,296.00 L911.00,296.00 L911.25,296.00 L911.50,296.00 L911.75,296.00 L912.00,296.00 L912.25,296.00 L912.50,296.00 L912.75,296.00 L913.00,296.00 L913.25,296.00 L913.50,296.00 L913.75,296.00 L914.00,296.00 L914.25,296.00 L914.50,296.00 L914.75,296.00 L915.00,296.00 L915.25,296.00 L915.50,296.00 L915.75,296.00 L916.00,296.00 L916.25,296.00 L916.50,296.00 L916.75,296.00 L917.00,296.00 L917.25,296.00 L917.50,296.00 L917.75,296.00 L918.00,296.00 L918.25,296.00 L918.50,296.00 L918.75,296.00 L919.00,296.00 L919.25,296.00 L919.50,296.00 L919.75,296.00 L920.00,296.00 L920.25,296.00 L920.50,296.00 L920.75,296.00 L921.00,296.00 L921.25,296.00 L921.50,296.00 L921.75,296.00 L922.00,296.00 L922.25,296.00 L922.50,296.00 L922.75,296.00 L923.00,296.00 L923.25,296.00 L923.50,296.00 L923.75,296.00 L924.00,296.00 L924.25,296.00 L924.50,296.00 L924.75,296.00 L925.00,296.00 L925.25,296.00 L925.50,296.00 L925.75,296.00 L926.00,296.00 L926.25,296.00 L926.50,296.00 L926.75,296.00 L927.00,296.00 L927.25,296.00 L927.50,296.00 L927.75,296.00 L928.00,296.00 L928.25,296.00 L928.50,296.00 L928.75,296.00 L929.00,296.00 L929.25,296.00 L929.50,296.00 L929.75,296.00 L930.00,296.00 L930.25,296.00 L930.50,296.00 L930.75,296.00 L931.00,296.00 L931.25,296.00 L931.50,296.00 L931.75,296.00 L932.00,296.00 L932.25,296.00 L932.50,296.00 L932.75,296.00 L933.00,296.00 L933.25,296.00 L933.50,296.00 L933.75,296.00 L934.00,296.00 L934.25,296.00 L934.50,296.00 L934.75,296.00 L935.00,296.00 L935.25,296.00 L935.50,296.00 L935.75,296.00 L936.00,296.00 L936.25,296.00 L936.50,296.00 L936.75,296.00 L937.00,296.00 L937.25,296.00 L937.50,296.00 L937.75,296.00 L938.00,296.00 L938.25,296.00 L938.50,296.00 L938.75,296.00 L939.00,296.00 L939.25,296.00 L939.50,296.00 L939.75,296.00 L940.00,296.00 L940.25,296.00 L940.50,296.00 L940.75,296.00 L941.00,296.00 L941.25,296.00 L941.50,296.00 L941.75,296.00 L942.00,296.00 L942.25,296.00 L942.50,296.00 L942.75,296.00 L943.00,296.00 L943.25,296.00 L943.50,296.00 L943.75,296.00 L944.00,296.00 L944.25,296.00 L944.50,296.00 L944.75,296.00 L945.00,296.00 L945.25,296.00 L945.50,296.00 L945.75,296.00 L946.00,296.00 L946.25,296.00 L946.50,296.00 L946.75,296.00 L947.00,296.00 L947.25,296.00 L947.50,296.00 L947.75,296.00 L948.00,296.00 L948.25,296.00 L948.50,296.00 L948.75,296.00 L949.00,296.00 L949.25,296.00 L949.50,296.00 L949.75,296.00 L950.00,296.00 L950.25,296.00 L950.50,296.00 L950.75,296.00 L951.00,296.00 L951.25,296.00 L951.50,296.00 L951.75,296.00 L952.00,296.00 L952.25,296.00 L952.50,296.00 L952.75,296.00 L953.00,296.00 L953.25,296.00 L953.50,296.00 L953.75,296.00 L954.00,296.00 L954.25,296.00 L954.50,296.00 L954.75,296.00 L955.00,296.00 L955.25,296.00 L955.50,296.00 L955.75,296.00 L956.00,296.00 L956.25,296.00 L956.50,296.00 L956.75,296.00 L957.00,296.00 L957.25,296.00 L957.50,296.00 L957.75,296.00 L958.00,296.00 L958.25,296.00 L958.50,296.00 L958.75,296.00 L959.00,296.00 L959.25,296.00 L959.50,296.00 L959.75,296.00 L960.00,296.00 L960.25,296.00 L960.50,296.00 L960.75,296.00 L961.00,296.00 L961.25,296.00 L961.50,296.00" fill="none" stroke="#e2460f" stroke-width="6.2" stroke-linejoin="round"/>
<path d="M778.00,412.60 C779.23,412.53 783.05,413.28 785.40,412.20 C787.75,411.12 790.07,408.60 792.10,406.10 C794.13,403.60 796.03,400.93 797.60,397.20 C799.17,393.47 800.40,388.93 801.50,383.70 C802.60,378.47 803.30,371.77 804.20,365.80 C805.10,359.83 806.10,353.53 806.90,347.90 C807.70,342.27 808.28,336.87 809.00,332.00 C809.72,327.13 810.37,323.57 811.20,318.70 C812.03,313.83 813.13,306.78 814.00,302.80 C814.87,298.82 815.43,297.47 816.40,294.80 C817.37,292.13 818.27,290.78 819.80,286.80 C821.33,282.82 824.13,274.60 825.60,270.90 C827.07,267.20 827.77,265.85 828.60,264.60 C829.43,263.35 829.93,263.33 830.60,263.40 C831.27,263.47 832.00,263.75 832.60,265.00 C833.20,266.25 833.62,267.27 834.20,270.90 C834.78,274.53 835.47,281.48 836.10,286.80 C836.73,292.12 837.40,297.48 838.00,302.80 C838.60,308.12 839.22,313.83 839.70,318.70 C840.18,323.57 840.48,327.13 840.90,332.00 C841.32,336.87 841.65,342.27 842.20,347.90 C842.75,353.53 843.47,359.83 844.20,365.80 C844.93,371.77 845.67,378.47 846.60,383.70 C847.53,388.93 848.47,393.47 849.80,397.20 C851.13,400.93 852.80,403.60 854.60,406.10 C856.40,408.60 858.37,411.10 860.60,412.20 C862.83,413.30 866.77,412.62 868.00,412.70 Z" fill="#4687f5" fill-opacity="0.3"/>
<path d="M662.50,412.70 C678.75,412.70 740.75,412.72 760.00,412.70 C779.25,412.68 773.77,412.68 778.00,412.60 C782.23,412.52 783.05,413.28 785.40,412.20 C787.75,411.12 790.07,408.60 792.10,406.10 C794.13,403.60 796.03,400.93 797.60,397.20 C799.17,393.47 800.40,388.93 801.50,383.70 C802.60,378.47 803.30,371.77 804.20,365.80 C805.10,359.83 806.10,353.53 806.90,347.90 C807.70,342.27 808.28,336.87 809.00,332.00 C809.72,327.13 810.37,323.57 811.20,318.70 C812.03,313.83 813.13,306.78 814.00,302.80 C814.87,298.82 815.43,297.47 816.40,294.80 C817.37,292.13 818.27,290.78 819.80,286.80 C821.33,282.82 824.13,274.60 825.60,270.90 C827.07,267.20 827.77,265.85 828.60,264.60 C829.43,263.35 829.93,263.33 830.60,263.40 C831.27,263.47 832.00,263.75 832.60,265.00 C833.20,266.25 833.62,267.27 834.20,270.90 C834.78,274.53 835.47,281.48 836.10,286.80 C836.73,292.12 837.40,297.48 838.00,302.80 C838.60,308.12 839.22,313.83 839.70,318.70 C840.18,323.57 840.48,327.13 840.90,332.00 C841.32,336.87 841.65,342.27 842.20,347.90 C842.75,353.53 843.47,359.83 844.20,365.80 C844.93,371.77 845.67,378.47 846.60,383.70 C847.53,388.93 848.47,393.47 849.80,397.20 C851.13,400.93 852.80,403.60 854.60,406.10 C856.40,408.60 858.37,411.10 860.60,412.20 C862.83,413.30 864.77,412.62 868.00,412.70 C871.23,412.78 871.58,412.70 880.00,412.70 C888.42,412.70 912.08,412.70 918.50,412.70" fill="none" stroke="#4687f5" stroke-width="6" stroke-linejoin="round"/>
<line x1="773.2" y1="60" x2="773.2" y2="412" stroke="#000" stroke-width="2" stroke-dasharray="2 1.85"/>
<line x1="826.8" y1="58" x2="826.8" y2="412" stroke="#000" stroke-width="2" stroke-dasharray="2 1.85"/>
<line x1="728.7" y1="147.4" x2="760" y2="147.4" stroke="#000" stroke-width="4.5"/>
<path d="M771.9,147.4 L756.5,139.2 L756.5,155.6 Z" fill="#000"/>
<line x1="839" y1="147.4" x2="870" y2="147.4" stroke="#000" stroke-width="4.5"/>
<path d="M826.8,147.4 L842.2,139.2 L842.2,155.6 Z" fill="#000"/>
<path d="M875,138.4 L887.6,123.6 L888.6,138.4 Z" fill="none" stroke="#000" stroke-width="1.4" stroke-linejoin="miter"/>
<line x1="887.8" y1="124" x2="888.6" y2="138.6" stroke="#000" stroke-width="2.4"/>
<text x="889.5" y="131.2" font-family="Liberation Sans, sans-serif" font-size="18">transient</text>
<text x="869" y="243.5" font-family="Liberation Sans, sans-serif" font-size="23" fill="#ff0000">Before</text>
<text x="858.3" y="271.2" font-family="Liberation Sans, sans-serif" font-size="23" fill="#ff0000">pumping</text>
<text font-family="Liberation Sans, sans-serif" fill="#0000ff" font-size="23"><tspan x="682.4" y="388.3">S</tspan><tspan x="697.7" y="393.6" font-size="17">z</tspan><tspan x="730.2" y="388.3">7/2</tspan></text><rect x="712.7" y="380.1" width="11.3" height="1.8" fill="#0000ff"/><rect x="712.7" y="384.1" width="11.3" height="1.8" fill="#0000ff"/>
<text x="861.5" y="373.2" font-family="Liberation Serif, serif" font-style="italic" font-size="29" fill="#0000ff">&#957;</text>
<text x="877.5" y="374.7" font-family="Liberation Sans, sans-serif" font-size="27" fill="#0000ff">=</text>
<text x="899.9" y="373.2" font-family="Liberation Sans, sans-serif" font-size="27" fill="#0000ff">1</text>
<text x="916.6" y="373.2" font-family="Liberation Sans, sans-serif" font-size="27" fill="#0000ff">+</text>
<text x="658.6" y="484" font-family="Liberation Sans, sans-serif" font-size="26" text-anchor="middle">0.0</text>
<text x="754.5" y="484" font-family="Liberation Sans, sans-serif" font-size="26" text-anchor="middle">0.5</text>
<text x="850.4" y="484" font-family="Liberation Sans, sans-serif" font-size="26" text-anchor="middle">1.0</text>
<text x="946.3" y="484" font-family="Liberation Sans, sans-serif" font-size="26" text-anchor="middle">1.5</text>
<text x="796" y="513.3" font-family="Liberation Sans, sans-serif" font-style="italic" font-size="26">E/E<tspan font-size="19" dy="6">ex</tspan></text>
<text transform="translate(644.5,313.5) rotate(-90) scale(1,1.066)" font-family="Liberation Sans, sans-serif" font-size="26.6">Spectral functions</text>
<text x="18.5" y="549.5" font-family="Liberation Sans, sans-serif" font-weight="bold" font-size="27">c</text>
<ellipse cx="200" cy="673" rx="181" ry="106" fill="url(#gRedDisc)" filter="url(#blur8)"/>
<g filter="url(#blur6)"><ellipse cx="807.5" cy="798.5" rx="179" ry="106" fill="url(#gGrayV)"/><ellipse cx="807.5" cy="798.5" rx="179" ry="106" fill="url(#gGrayR)"/></g>
<ellipse cx="472" cy="1086" rx="212" ry="109" fill="url(#gBlueDisc)" filter="url(#blur9)"/>
<g transform="translate(162.9,538.4) rotate(0) scale(0.991,0.991)" filter="url(#soft)"><rect x="-3.3" y="17.8" width="6.6" height="37.2" fill="url(#gShaftR)"/><path d="M0,0 L11.8,19.8 A11.8,4.0 0 0 1 -11.8,19.8 Z" fill="url(#gConeR)"/></g>
<g transform="translate(250.4,538.4) rotate(0) scale(0.991,0.991)" filter="url(#soft)"><rect x="-3.3" y="17.8" width="6.6" height="37.2" fill="url(#gShaftR)"/><path d="M0,0 L11.8,19.8 A11.8,4.0 0 0 1 -11.8,19.8 Z" fill="url(#gConeR)"/></g>
<g transform="translate(74.4,566.0) rotate(0) scale(0.991,0.991)" filter="url(#soft)"><rect x="-3.3" y="17.8" width="6.6" height="37.2" fill="url(#gShaftR)"/><path d="M0,0 L11.8,19.8 A11.8,4.0 0 0 1 -11.8,19.8 Z" fill="url(#gConeR)"/></g>
<g transform="translate(326.6,566.0) rotate(0) scale(0.991,0.991)" filter="url(#soft)"><rect x="-3.3" y="17.8" width="6.6" height="37.2" fill="url(#gShaftR)"/><path d="M0,0 L11.8,19.8 A11.8,4.0 0 0 1 -11.8,19.8 Z" fill="url(#gConeR)"/></g>
<g transform="translate(186.0,573.4) rotate(0) scale(0.991,0.991)" filter="url(#soft)"><rect x="-3.3" y="17.8" width="6.6" height="37.2" fill="url(#gShaftR)"/><path d="M0,0 L11.8,19.8 A11.8,4.0 0 0 1 -11.8,19.8 Z" fill="url(#gConeR)"/></g>
<g transform="translate(361.6,595.3) rotate(0) scale(0.991,0.991)" filter="url(#soft)"><rect x="-3.3" y="17.8" width="6.6" height="37.2" fill="url(#gShaftR)"/><path d="M0,0 L11.8,19.8 A11.8,4.0 0 0 1 -11.8,19.8 Z" fill="url(#gConeR)"/></g>
<g transform="translate(33.7,598.0) rotate(0) scale(0.991,0.991)" filter="url(#soft)"><rect x="-3.3" y="17.8" width="6.6" height="37.2" fill="url(#gShaftR)"/><path d="M0,0 L11.8,19.8 A11.8,4.0 0 0 1 -11.8,19.8 Z" fill="url(#gConeR)"/></g>
<g transform="translate(268.0,600.0) rotate(0) scale(0.991,0.991)" filter="url(#soft)"><rect x="-3.3" y="17.8" width="6.6" height="37.2" fill="url(#gShaftR)"/><path d="M0,0 L11.8,19.8 A11.8,4.0 0 0 1 -11.8,19.8 Z" fill="url(#gConeR)"/></g>
<g transform="translate(117.3,609.7) rotate(0) scale(0.991,0.991)" filter="url(#soft)"><rect x="-3.3" y="17.8" width="6.6" height="37.2" fill="url(#gShaftR)"/><path d="M0,0 L11.8,19.8 A11.8,4.0 0 0 1 -11.8,19.8 Z" fill="url(#gConeR)"/></g>
<g transform="translate(208.0,623.0) rotate(0) scale(0.991,0.991)" filter="url(#soft)"><rect x="-3.3" y="17.8" width="6.6" height="37.2" fill="url(#gShaftR)"/><path d="M0,0 L11.8,19.8 A11.8,4.0 0 0 1 -11.8,19.8 Z" fill="url(#gConeR)"/></g>
<g transform="translate(361.6,644.8) rotate(0) scale(0.991,0.991)" filter="url(#soft)"><rect x="-3.3" y="17.8" width="6.6" height="37.2" fill="url(#gShaftR)"/><path d="M0,0 L11.8,19.8 A11.8,4.0 0 0 1 -11.8,19.8 Z" fill="url(#gConeR)"/></g>
<g transform="translate(35.0,651.3) rotate(0) scale(0.991,0.991)" filter="url(#soft)"><rect x="-3.3" y="17.8" width="6.6" height="37.2" fill="url(#gShaftR)"/><path d="M0,0 L11.8,19.8 A11.8,4.0 0 0 1 -11.8,19.8 Z" fill="url(#gConeR)"/></g>
<g transform="translate(132.2,653.5) rotate(0) scale(0.991,0.991)" filter="url(#soft)"><rect x="-3.3" y="17.8" width="6.6" height="37.2" fill="url(#gShaftR)"/><path d="M0,0 L11.8,19.8 A11.8,4.0 0 0 1 -11.8,19.8 Z" fill="url(#gConeR)"/></g>
<g transform="translate(286.8,655.7) rotate(0) scale(0.991,0.991)" filter="url(#soft)"><rect x="-3.3" y="17.8" width="6.6" height="37.2" fill="url(#gShaftR)"/><path d="M0,0 L11.8,19.8 A11.8,4.0 0 0 1 -11.8,19.8 Z" fill="url(#gConeR)"/></g>
<g transform="translate(207.0,679.8) rotate(0) scale(0.991,0.991)" filter="url(#soft)"><rect x="-3.3" y="17.8" width="6.6" height="37.2" fill="url(#gShaftR)"/><path d="M0,0 L11.8,19.8 A11.8,4.0 0 0 1 -11.8,19.8 Z" fill="url(#gConeR)"/></g>
<g transform="translate(74.4,699.5) rotate(0) scale(0.991,0.991)" filter="url(#soft)"><rect x="-3.3" y="17.8" width="6.6" height="37.2" fill="url(#gShaftR)"/><path d="M0,0 L11.8,19.8 A11.8,4.0 0 0 1 -11.8,19.8 Z" fill="url(#gConeR)"/></g>
<g transform="translate(328.4,699.5) rotate(0) scale(0.991,0.991)" filter="url(#soft)"><rect x="-3.3" y="17.8" width="6.6" height="37.2" fill="url(#gShaftR)"/><path d="M0,0 L11.8,19.8 A11.8,4.0 0 0 1 -11.8,19.8 Z" fill="url(#gConeR)"/></g>
<g transform="translate(158.5,725.8) rotate(0) scale(0.991,0.991)" filter="url(#soft)"><rect x="-3.3" y="17.8" width="6.6" height="37.2" fill="url(#gShaftR)"/><path d="M0,0 L11.8,19.8 A11.8,4.0 0 0 1 -11.8,19.8 Z" fill="url(#gConeR)"/></g>
<g transform="translate(258.3,725.8) rotate(0) scale(0.991,0.991)" filter="url(#soft)"><rect x="-3.3" y="17.8" width="6.6" height="37.2" fill="url(#gShaftR)"/><path d="M0,0 L11.8,19.8 A11.8,4.0 0 0 1 -11.8,19.8 Z" fill="url(#gConeR)"/></g>
<g transform="translate(803.4,662.5) rotate(0) scale(0.809,0.809)" filter="url(#soft)"><rect x="-3.3" y="17.5" width="6.6" height="37.5" fill="url(#gShaftQ)"/><path d="M0,0 L12.3,19.5 A12.3,4.5 0 0 1 -12.3,19.5 Z" fill="url(#gConeQ)"/></g>
<g transform="translate(849.8,676.2) rotate(0) scale(0.809,0.809)" filter="url(#soft)"><rect x="-3.3" y="17.5" width="6.6" height="37.5" fill="url(#gShaftQ)"/><path d="M0,0 L12.3,19.5 A12.3,4.5 0 0 1 -12.3,19.5 Z" fill="url(#gConeQ)"/></g>
<g transform="translate(694.5,681.3) rotate(0) scale(0.809,0.809)" filter="url(#soft)"><rect x="-3.3" y="17.5" width="6.6" height="37.5" fill="url(#gShaftQ)"/><path d="M0,0 L12.3,19.5 A12.3,4.5 0 0 1 -12.3,19.5 Z" fill="url(#gConeQ)"/></g>
<g transform="translate(904.8,693.9) rotate(0) scale(0.809,0.809)" filter="url(#soft)"><rect x="-3.3" y="17.5" width="6.6" height="37.5" fill="url(#gShaftQ)"/><path d="M0,0 L12.3,19.5 A12.3,4.5 0 0 1 -12.3,19.5 Z" fill="url(#gConeQ)"/></g>
<g transform="translate(720.0,707.5) rotate(0) scale(0.809,0.809)" filter="url(#soft)"><rect x="-3.3" y="17.5" width="6.6" height="37.5" fill="url(#gShaftQ)"/><path d="M0,0 L12.3,19.5 A12.3,4.5 0 0 1 -12.3,19.5 Z" fill="url(#gConeQ)"/></g>
<g transform="translate(754.8,714.6) rotate(-38.6)" filter="url(#soft)"><rect x="-1.30" y="11.50" width="2.60" height="24.58" rx="1.30" fill="url(#gShaftY)"/><path d="M0,0 L7.30,12.50 A7.30,2.19 0 0 1 -7.30,12.50 Z" fill="url(#gConeY)"/></g>
<g transform="translate(855.0,715.0) rotate(-24.6)" filter="url(#soft)"><rect x="-1.30" y="12.00" width="2.60" height="31.67" rx="1.30" fill="url(#gShaftY)"/><path d="M0,0 L7.30,13.00 A7.30,2.19 0 0 1 -7.30,13.00 Z" fill="url(#gConeY)"/></g>
<g transform="translate(658.0,729.3) rotate(0) scale(0.809,0.809)" filter="url(#soft)"><rect x="-3.3" y="17.5" width="6.6" height="37.5" fill="url(#gShaftQ)"/><path d="M0,0 L12.3,19.5 A12.3,4.5 0 0 1 -12.3,19.5 Z" fill="url(#gConeQ)"/></g>
<g transform="translate(957.9,735.2) rotate(0) scale(0.809,0.809)" filter="url(#soft)"><rect x="-3.3" y="17.5" width="6.6" height="37.5" fill="url(#gShaftQ)"/><path d="M0,0 L12.3,19.5 A12.3,4.5 0 0 1 -12.3,19.5 Z" fill="url(#gConeQ)"/></g>
<g transform="translate(792.4,740.7) rotate(-76.4)" filter="url(#soft)"><rect x="-1.20" y="11.00" width="2.40" height="32.00" rx="1.20" fill="url(#gShaftW)"/><path d="M0,0 L7.30,12.00 A7.30,2.19 0 0 1 -7.30,12.00 Z" fill="url(#gConeW)"/></g>
<g transform="translate(735.5,770.0) rotate(-114.9)" filter="url(#soft)"><rect x="-1.20" y="11.00" width="2.40" height="23.63" rx="1.20" fill="url(#gShaftW)"/><path d="M0,0 L7.30,12.00 A7.30,2.19 0 0 1 -7.30,12.00 Z" fill="url(#gConeW)"/></g>
<g filter="url(#soft)"><ellipse cx="853" cy="765.5" rx="7.8" ry="7.5" fill="#e4e6ea" fill-opacity="0.6"/><line x1="851.5" y1="767" x2="860" y2="780.4" stroke="#a4a8b0" stroke-width="2.2"/></g>
<g transform="translate(920.5,764.5) rotate(0) scale(0.809,0.809)" filter="url(#soft)"><rect x="-3.3" y="17.5" width="6.6" height="37.5" fill="url(#gShaftQ)"/><path d="M0,0 L12.3,19.5 A12.3,4.5 0 0 1 -12.3,19.5 Z" fill="url(#gConeQ)"/></g>
<g filter="url(#soft)"><line x1="705" y1="781" x2="712" y2="790.5" stroke="#c8bc00" stroke-width="2.6"/><circle cx="704.6" cy="779.4" r="8" fill="url(#gConeY)"/></g>
<g transform="translate(884.3,784.6) rotate(6.9)" filter="url(#soft)"><rect x="-1.30" y="12.00" width="2.60" height="31.21" rx="1.30" fill="url(#gShaftY)"/><path d="M0,0 L8.30,13.00 A8.30,2.49 0 0 1 -8.30,13.00 Z" fill="url(#gConeY)"/></g>
<g transform="translate(660.3,788.2) rotate(0) scale(0.809,0.809)" filter="url(#soft)"><rect x="-3.3" y="17.5" width="6.6" height="37.5" fill="url(#gShaftQ)"/><path d="M0,0 L12.3,19.5 A12.3,4.5 0 0 1 -12.3,19.5 Z" fill="url(#gConeQ)"/></g>
<g filter="url(#soft)"><path d="M782.9,790.9 L792.8,804.5 L802.7,790.9 Z" fill="url(#gConeB)"/><ellipse cx="792.8" cy="790.9" rx="9.9" ry="5.8" fill="#1e2060"/><rect x="789.9" y="766.4" width="4.2" height="24.5" rx="2.1" fill="url(#gShaftB)"/></g>
<g transform="translate(743.3,811.8) rotate(158.6)" filter="url(#soft)"><rect x="-1.20" y="10.50" width="2.40" height="15.28" rx="1.20" fill="url(#gShaftW)"/><path d="M0,0 L7.30,11.50 A7.30,3.50 0 0 1 -7.30,11.50 Z" fill="url(#gConeW)"/></g>
<g transform="translate(855.0,800.3) rotate(61.7)" filter="url(#soft)"><rect x="-1.20" y="7.00" width="2.40" height="26.15" rx="1.20" fill="url(#gShaftW)"/><path d="M0,0 L7.50,8.00 A7.50,5.00 0 0 1 -7.50,8.00 Z" fill="url(#gConeW)"/></g>
<g transform="translate(955.0,800.0) rotate(0) scale(0.809,0.809)" filter="url(#soft)"><rect x="-3.3" y="17.5" width="6.6" height="37.5" fill="url(#gShaftQ)"/><path d="M0,0 L12.3,19.5 A12.3,4.5 0 0 1 -12.3,19.5 Z" fill="url(#gConeQ)"/></g>
<g transform="translate(802.8,830.6) rotate(96.2)" filter="url(#soft)"><rect x="-1.30" y="12.00" width="2.60" height="30.45" rx="1.30" fill="url(#gShaftW)"/><path d="M0,0 L7.80,13.00 A7.80,2.34 0 0 1 -7.80,13.00 Z" fill="url(#gConeW)"/></g>
<g transform="translate(697.3,830.5) rotate(0) scale(0.809,0.809)" filter="url(#soft)"><rect x="-3.3" y="17.5" width="6.6" height="37.5" fill="url(#gShaftQ)"/><path d="M0,0 L12.3,19.5 A12.3,4.5 0 0 1 -12.3,19.5 Z" fill="url(#gConeQ)"/></g>
<g transform="translate(900.0,831.5) rotate(0) scale(0.809,0.809)" filter="url(#soft)"><rect x="-3.3" y="17.5" width="6.6" height="37.5" fill="url(#gShaftQ)"/><path d="M0,0 L12.3,19.5 A12.3,4.5 0 0 1 -12.3,19.5 Z" fill="url(#gConeQ)"/></g>
<g filter="url(#soft)"><line x1="727" y1="838" x2="714" y2="845.2" stroke="#c8bc00" stroke-width="2.6"/><circle cx="728.7" cy="836.9" r="8" fill="url(#gConeY)"/></g>
<g transform="translate(823.7,837.9) rotate(27.1)" filter="url(#soft)"><rect x="-1.30" y="11.50" width="2.60" height="29.60" rx="1.30" fill="url(#gShaftY)"/><path d="M0,0 L7.80,12.50 A7.80,2.34 0 0 1 -7.80,12.50 Z" fill="url(#gConeY)"/></g>
<g transform="translate(853.7,846.5) rotate(0) scale(0.809,0.809)" filter="url(#soft)"><rect x="-3.3" y="17.5" width="6.6" height="37.5" fill="url(#gShaftQ)"/><path d="M0,0 L12.3,19.5 A12.3,4.5 0 0 1 -12.3,19.5 Z" fill="url(#gConeQ)"/></g>
<g transform="translate(771.2,853.9) rotate(0) scale(0.800,0.800)" filter="url(#soft)"><rect x="-3.3" y="17.5" width="6.6" height="37.5" fill="url(#gShaftQ)"/><path d="M0,0 L12.3,19.5 A12.3,4.5 0 0 1 -12.3,19.5 Z" fill="url(#gConeQ)"/></g>
<g transform="translate(510.0,948.6) rotate(0) scale(0.951,0.951)" filter="url(#soft)"><rect x="-3.3" y="16.5" width="6.6" height="38.5" fill="url(#gShaftP)"/><path d="M0,0 L12.2,18.5 A12.2,5 0 0 1 -12.2,18.5 Z" fill="url(#gConeP)"/></g>
<g transform="translate(416.4,951.0) rotate(0) scale(0.951,0.951)" filter="url(#soft)"><rect x="-3.3" y="16.5" width="6.6" height="38.5" fill="url(#gShaftP)"/><path d="M0,0 L12.2,18.5 A12.2,5 0 0 1 -12.2,18.5 Z" fill="url(#gConeP)"/></g>
<g transform="translate(356.7,964.5) rotate(0) scale(0.951,0.951)" filter="url(#soft)"><rect x="-3.3" y="16.5" width="6.6" height="38.5" fill="url(#gShaftP)"/><path d="M0,0 L12.2,18.5 A12.2,5 0 0 1 -12.2,18.5 Z" fill="url(#gConeP)"/></g>
<g transform="translate(458.7,972.0) rotate(0) scale(0.951,0.951)" filter="url(#soft)"><rect x="-3.3" y="16.5" width="6.6" height="38.5" fill="url(#gShaftP)"/><path d="M0,0 L12.2,18.5 A12.2,5 0 0 1 -12.2,18.5 Z" fill="url(#gConeP)"/></g>
<g transform="translate(585.6,974.4) rotate(0) scale(0.951,0.951)" filter="url(#soft)"><rect x="-3.3" y="16.5" width="6.6" height="38.5" fill="url(#gShaftP)"/><path d="M0,0 L12.2,18.5 A12.2,5 0 0 1 -12.2,18.5 Z" fill="url(#gConeP)"/></g>
<g transform="translate(292.0,998.3) rotate(0) scale(0.951,0.951)" filter="url(#soft)"><rect x="-3.3" y="16.5" width="6.6" height="38.5" fill="url(#gShaftP)"/><path d="M0,0 L12.2,18.5 A12.2,5 0 0 1 -12.2,18.5 Z" fill="url(#gConeP)"/></g>
<g transform="translate(534.3,1001.8) rotate(0) scale(0.951,0.951)" filter="url(#soft)"><rect x="-3.3" y="16.5" width="6.6" height="38.5" fill="url(#gShaftP)"/><path d="M0,0 L12.2,18.5 A12.2,5 0 0 1 -12.2,18.5 Z" fill="url(#gConeP)"/></g>
<g transform="translate(622.9,1003.3) rotate(0) scale(0.951,0.951)" filter="url(#soft)"><rect x="-3.3" y="16.5" width="6.6" height="38.5" fill="url(#gShaftP)"/><path d="M0,0 L12.2,18.5 A12.2,5 0 0 1 -12.2,18.5 Z" fill="url(#gConeP)"/></g>
<g transform="translate(398.0,1020.2) rotate(0) scale(0.951,0.951)" filter="url(#soft)"><rect x="-3.3" y="16.5" width="6.6" height="38.5" fill="url(#gShaftP)"/><path d="M0,0 L12.2,18.5 A12.2,5 0 0 1 -12.2,18.5 Z" fill="url(#gConeP)"/></g>
<g transform="translate(575.6,1035.0) rotate(0) scale(0.951,0.951)" filter="url(#soft)"><rect x="-3.3" y="16.5" width="6.6" height="38.5" fill="url(#gShaftP)"/><path d="M0,0 L12.2,18.5 A12.2,5 0 0 1 -12.2,18.5 Z" fill="url(#gConeP)"/></g>
<g filter="url(#soft)"><path d="M453.9,1070.2 L468.8,1093.6 L483.7,1070.2 Z" fill="url(#gConeB)"/><ellipse cx="468.8" cy="1070.2" rx="14.9" ry="9.0" fill="#1e2060"/><rect x="466.5" y="1028.4" width="5.6" height="41.8" rx="2.8" fill="url(#gShaftB)"/></g>
<g transform="translate(359.2,1044.0) rotate(0) scale(0.951,0.951)" filter="url(#soft)"><rect x="-3.3" y="16.5" width="6.6" height="38.5" fill="url(#gShaftP)"/><path d="M0,0 L12.2,18.5 A12.2,5 0 0 1 -12.2,18.5 Z" fill="url(#gConeP)"/></g>
<g transform="translate(520.9,1068.0) rotate(0) scale(0.951,0.951)" filter="url(#soft)"><rect x="-3.3" y="16.5" width="6.6" height="38.5" fill="url(#gShaftP)"/><path d="M0,0 L12.2,18.5 A12.2,5 0 0 1 -12.2,18.5 Z" fill="url(#gConeP)"/></g>
<g transform="translate(642.8,1068.0) rotate(0) scale(0.951,0.951)" filter="url(#soft)"><rect x="-3.3" y="16.5" width="6.6" height="38.5" fill="url(#gShaftP)"/><path d="M0,0 L12.2,18.5 A12.2,5 0 0 1 -12.2,18.5 Z" fill="url(#gConeP)"/></g>
<g transform="translate(293.5,1070.0) rotate(0) scale(0.951,0.951)" filter="url(#soft)"><rect x="-3.3" y="16.5" width="6.6" height="38.5" fill="url(#gShaftP)"/><path d="M0,0 L12.2,18.5 A12.2,5 0 0 1 -12.2,18.5 Z" fill="url(#gConeP)"/></g>
<g transform="translate(426.4,1076.4) rotate(0) scale(0.951,0.951)" filter="url(#soft)"><rect x="-3.3" y="16.5" width="6.6" height="38.5" fill="url(#gShaftP)"/><path d="M0,0 L12.2,18.5 A12.2,5 0 0 1 -12.2,18.5 Z" fill="url(#gConeP)"/></g>
<g transform="translate(588.0,1107.3) rotate(0) scale(0.951,0.951)" filter="url(#soft)"><rect x="-3.3" y="16.5" width="6.6" height="38.5" fill="url(#gShaftP)"/><path d="M0,0 L12.2,18.5 A12.2,5 0 0 1 -12.2,18.5 Z" fill="url(#gConeP)"/></g>
<g transform="translate(341.8,1110.2) rotate(0) scale(0.951,0.951)" filter="url(#soft)"><rect x="-3.3" y="16.5" width="6.6" height="38.5" fill="url(#gShaftP)"/><path d="M0,0 L12.2,18.5 A12.2,5 0 0 1 -12.2,18.5 Z" fill="url(#gConeP)"/></g>
<g transform="translate(540.8,1133.6) rotate(0) scale(0.951,0.951)" filter="url(#soft)"><rect x="-3.3" y="16.5" width="6.6" height="38.5" fill="url(#gShaftP)"/><path d="M0,0 L12.2,18.5 A12.2,5 0 0 1 -12.2,18.5 Z" fill="url(#gConeP)"/></g>
<g transform="translate(413.0,1135.0) rotate(0) scale(0.951,0.951)" filter="url(#soft)"><rect x="-3.3" y="16.5" width="6.6" height="38.5" fill="url(#gShaftP)"/><path d="M0,0 L12.2,18.5 A12.2,5 0 0 1 -12.2,18.5 Z" fill="url(#gConeP)"/></g>
<g transform="translate(483.6,1137.6) rotate(0) scale(0.951,0.951)" filter="url(#soft)"><rect x="-3.3" y="16.5" width="6.6" height="38.5" fill="url(#gShaftP)"/><path d="M0,0 L12.2,18.5 A12.2,5 0 0 1 -12.2,18.5 Z" fill="url(#gConeP)"/></g>
<path d="M435.8,674.6 C505.2,652.8 519.9,654.6 577,700.5" fill="none" stroke="#000" stroke-width="3.4"/>
<path d="M596.2,716.7 L582,678.4 L577.5,700.5 L556.2,706.8 Z" fill="#000"/>
<path d="M232.2,815.5 C206.1,881.9 190.5,919.7 265,958.5" fill="none" stroke="#000" stroke-width="4.6"/>
<path d="M286.6,969.6 L264.2,935.8 L265,958.5 L245.4,968 Z" fill="#000"/>
<path d="M732.2,1083.3 C814.1,1070.8 838.5,1048 811.5,967" fill="none" stroke="#000" stroke-width="4.6"/>
<path d="M801.5,940.9 L795.5,982.7 L811.5,967 L831.3,970.7 Z" fill="#000"/>
<text transform="translate(469.6,609.4) scale(1,1.08)" font-family="Liberation Sans, sans-serif" font-size="26.6">Static density</text>
<text transform="translate(469.6,641.0) scale(1,1.08)" font-family="Liberation Sans, sans-serif" font-size="26.6">tuning</text>
<text transform="translate(825.3,606.7) scale(1,1.08)" font-family="Liberation Sans, sans-serif" font-size="26.6" text-anchor="middle">Equilibrium</text>
<text transform="translate(825.3,638.6) scale(1,1.08)" font-family="Liberation Sans, sans-serif" font-size="26.6" text-anchor="middle">Skyrmion</text>
<text transform="translate(19.0,980.6) scale(1,1.08)" font-family="Liberation Sans, sans-serif" font-size="26.6">Immediately</text>
<text transform="translate(19.0,1010.8) scale(1,1.08)" font-family="Liberation Sans, sans-serif" font-size="26.6">after pumping</text>
<text transform="translate(760.5,1126.0) scale(1,1.08)" font-family="Liberation Sans, sans-serif" font-size="26.6">After relaxation</text>
<text transform="translate(760.5,1158.6) scale(1,1.08)" font-family="Liberation Sans, sans-serif" font-size="26.6">(<tspan font-style="italic">t</tspan> ~ 0.5 &#956;s)</text>
<text transform="translate(461.0,897.4) scale(1,1.08)" font-family="Liberation Sans, sans-serif" font-size="26.6" fill="#2b5197" text-anchor="middle">Nonequilibrium</text>
<text transform="translate(383.1,929.7) scale(1,1.08)" font-family="Liberation Serif, serif" font-style="italic" font-size="29" fill="#2b5197">&#957;</text>
<text transform="translate(397.5,929.7) scale(1,1.08)" font-family="Liberation Sans, sans-serif" font-size="26.6" fill="#2b5197">=</text>
<text transform="translate(422.2,929.7) scale(1,1.08)" font-family="Liberation Sans, sans-serif" font-size="26.6" fill="#2b5197">1+ droplet</text>
</svg></body></html>
